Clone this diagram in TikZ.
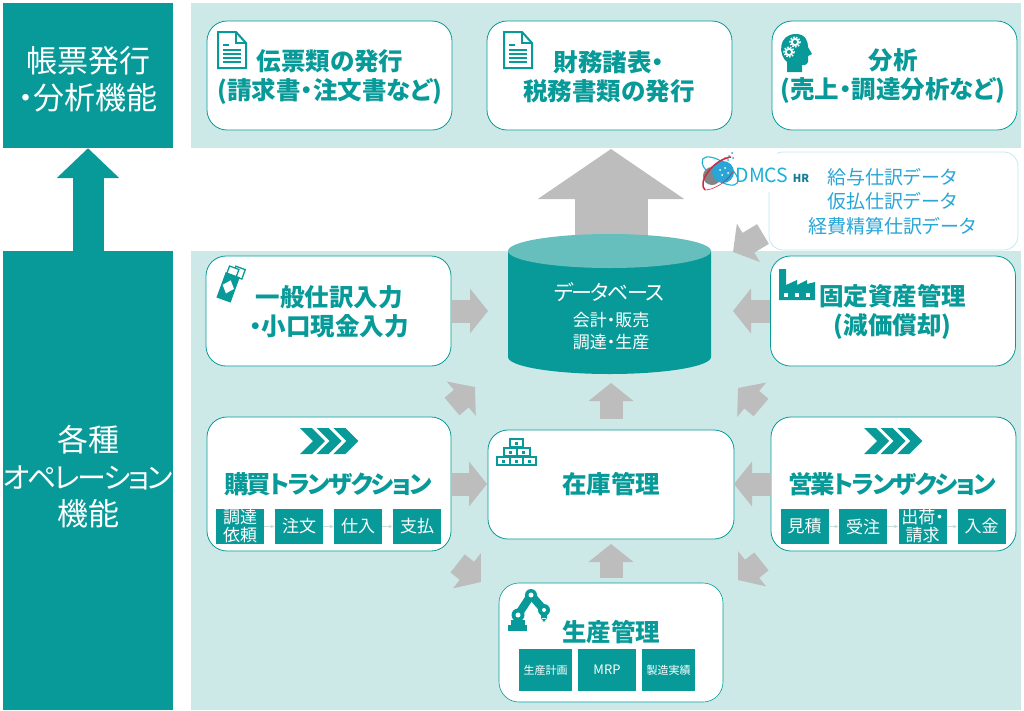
\documentclass[tikz,border=0pt]{standalone}
\usepackage{fontspec}
\usepackage{xcolor}
\usetikzlibrary{arrows.meta}
\newfontfamily\cjkfont[RawFeature=+palt]{Noto Sans CJK JP}
\newfontfamily\cjktight[RawFeature=+palt,LetterSpace=-8]{Noto Sans CJK JP}
\definecolor{dmteal}{RGB}{8,154,152}
\definecolor{dmpale}{RGB}{204,233,232}
\definecolor{dmtop}{RGB}{102,191,189}
\definecolor{dmgray}{RGB}{189,189,189}
\definecolor{dmblue}{RGB}{41,165,214}
\definecolor{dmcyan}{RGB}{28,176,214}
\definecolor{dmred}{RGB}{205,40,70}
\tikzset{
	band/.style={fill=dmteal,inner sep=0pt},
	paleband/.style={fill=dmpale,inner sep=0pt},
	panel/.style={draw=dmteal,line width=.8pt,fill=white,rounded corners=20pt,inner sep=0pt,minimum width=245pt,minimum height=109pt},
	boxlabel/.style={text=dmteal,align=center,inner sep=0pt,font=\cjkfont\bfseries\fontsize{24.5}{29}\selectfont},
	tightlabel/.style={text=dmteal,align=center,inner sep=0pt,font=\cjktight\bfseries\fontsize{24.5}{29}\selectfont},
	bandlabel/.style={text=white,align=center,inner sep=0pt,font=\cjkfont\fontsize{31}{37}\selectfont},
	stepbox/.style={fill=dmteal,text=white,align=center,inner sep=0pt,minimum width=48pt,minimum height=35pt,font=\cjkfont\fontsize{17}{18}\selectfont},
	prodbox/.style={fill=dmteal,text=white,inner sep=0pt,minimum height=42pt,font=\cjkfont\fontsize{11}{13}\selectfont},
	steplink/.style={draw=dmpale!70!dmgray,line width=.8pt,-{Latex[length=4pt,width=4pt]}},
	grayarrow/.style={draw=dmgray,line width=23pt,-{Triangle[length=18pt,width=44pt]}},
	icon/.style={fill=dmteal,draw=none}
}
\newcommand{\chevrons}[1]{
	\foreach \k in {0,16.7,33.4}
		\fill[icon,shift={(#1)}] (\k,0) -- ++(12,0) -- ++(13,13) -- ++(-13,13) -- ++(-12,0) -- ++(13,-13) -- cycle;
}
\newcommand{\docicon}[1]{
	\begin{scope}[shift={(#1)},draw=dmteal,line width=2pt]
		\draw[line join=miter] (0,0) -- (18,0) -- (28,11) -- (28,36) -- (0,36) -- cycle;
		\draw (18,0) -- (18,11) -- (28,11);
		\draw[line width=1.3pt] (5,13) -- (11,13);
		\foreach \k in {18,22,26,30}
			\draw[line width=1.3pt] (5,\k) -- (23,\k);
	\end{scope}
}
\newcommand{\gearicon}[1]{
	\fill[white] (#1) circle (4.2);
	\draw[white,line width=1.6pt,dash pattern=on 1.5pt off 1.5pt] (#1) circle (5);
	\fill[dmteal] (#1) circle (2);
}
\begin{document}
\begin{tikzpicture}[x=1pt,y=-1pt]
	\useasboundingbox (0,0) rectangle (1024,710);

	\node (chohyo) at (88,75.5) [band,minimum width=170pt,minimum height=145pt] {};
	\node (oper) at (88,480.5) [band,minimum width=170pt,minimum height=459pt] {};
	\node (palea) at (606,75.5) [paleband,minimum width=830pt,minimum height=145pt] {};
	\node (paleb) at (606,480.5) [paleband,minimum width=830pt,minimum height=459pt] {};

	\draw[draw=dmteal,line width=31pt,-{Triangle[length=30pt,width=61pt]}] (oper.north) -- (chohyo.south);

	\node (chohyotext) at (88,79) [bandlabel] {帳票発行\\・分析機能};
	\node (opertext) at (88,477) [bandlabel] {各種\\{\cjktight\fontsize{29}{37}\selectfont オペレーション}\\機能};

	% top row
	\node (denpyo) at (329.5,75.5) [panel] {};
	\node (zaimu) at (609.5,75.5) [panel] {};
	\node (bunseki) at (894.5,75.5) [panel] {};
	\node (denpyotext) at (330,77) [boxlabel] {伝票類の発行\\(請求書・注文書など)};
	\node (zaimutext) at (609,77) [boxlabel] {財務諸表・\\税務書類の発行};
	\node (bunsekitext) at (893,76) [boxlabel] {分析\\(売上・調達分析など)};
	\docicon{218,32}
	\docicon{504,32}

	\fill[icon] (787,72) -- (787,62) .. controls (778,55) and (778,34) .. (796,34) .. controls (806,34) and (808,42) .. (808,47) -- (812,54) -- (808,56) -- (808,62) .. controls (808,65) and (805,65) .. (802,65) -- (802,72) -- cycle;
	\gearicon{795,42}
	\gearicon{789,52}

	% database
	\coordinate (dbtip) at (611,149);
	\coordinate (dbtail) at (611,240);
	\draw[draw=dmgray,line width=73pt,-{Triangle[length=50pt,width=144pt]}] (dbtail) -- (dbtip);
	\fill[dmteal] (508,251) -- (508,357) arc[start angle=180,end angle=0,x radius=101.5,y radius=17] -- (711,251) -- cycle;
	\fill[dmtop] (609.5,251) ellipse [x radius=101.5,y radius=17];
	\node (dbtext) at (609,292) [text=white,inner sep=0pt,font=\cjktight\fontsize{21}{26}\selectfont] {データベース};
	\node (dbsub) at (611,331) [text=white,align=center,inner sep=0pt,font=\cjkfont\fontsize{17}{22}\selectfont] {会計・販売\\調達・生産};

	% dmcs data box
	\node (dmcs) at (893.5,201) [draw=dmcyan!30,line width=.7pt,fill=white,rounded corners=14pt,inner sep=0pt,minimum width=249pt,minimum height=98pt] {};
	\fill[white] (700,149) rectangle (777,192);
	\draw[dmcyan,line width=1.1pt,rotate around={-35:(720,171)}] (720,171) ellipse [x radius=21,y radius=9];
	\fill[dmgray!70!black] (712,176) circle (9);
	\fill[dmblue] (723,172) circle (11);
	\foreach \a/\b in {725/158,729/156,722/160,732/153,728/160,733/158,719/163,727/163}
		\fill[dmblue] (\a,\b) circle (1);
	\foreach \a/\b in {720/170,725/168,722/175,728/173}
		\fill[white] (\a,\b) circle (1);
	\draw[dmred,line width=1.5pt] (705,190) .. controls (697,183) and (712,160) .. (731,157);
	\draw[dmred,line width=.6pt] (705,190) .. controls (712,190) and (725,184) .. (733,172);
	\node (dmcsname) at (762,175) [text=dmcyan,inner sep=0pt,font=\cjkfont\fontsize{19.5}{20}\selectfont] {DMCS};
	\node (dmcshr) at (801,178) [text=dmcyan!70!black,inner sep=0pt,font=\cjkfont\bfseries\fontsize{11}{12}\selectfont] {HR};
	\node (dmcstext) at (892,201.5) [text=dmblue,align=center,inner sep=0pt,font=\cjkfont\fontsize{19}{24.5}\selectfont] {給与仕訳データ\\仮払仕訳データ\\経費精算仕訳データ};

	% operation boxes
	\node (ippan) at (328.5,311) [panel,minimum height=110pt] {};
	\node (kotei) at (893,311) [panel,minimum height=110pt] {};
	\node (kobai) at (329,484) [panel,minimum width=244pt,minimum height=134pt] {};
	\node (eigyo) at (893.5,484) [panel,minimum height=134pt] {};
	\node (zaiko) at (611,484.5) [panel,minimum width=246pt,minimum height=109pt] {};
	\node (seisan) at (611,642.5) [panel,minimum width=224pt,minimum height=119pt,line width=.6pt] {};

	\node (ippantext) at (329,311.5) [boxlabel] {一般仕訳入力\\・小口現金入力};
	\node (koteitext) at (892.5,312) [boxlabel] {固定資産管理\\(減価償却)};
	\node (kobaitext) at (328,484) [tightlabel] {購買トランザクション};
	\node (eigyotext) at (892,484) [tightlabel] {営業トランザクション};
	\node (zaikotext) at (611,484) [boxlabel] {在庫管理};
	\node (seisantext) at (611,632) [boxlabel] {生産管理};

	\chevrons{300,428}
	\chevrons{864,428}

	\foreach \i/\x/\t in {1/240/{調達\\依頼},2/299/注文,3/358/仕入,4/417/支払}
		\node (kobai\i) at (\x,526.5) [stepbox] {\t};
	\foreach \i/\x/\t in {1/804.5/見積,2/863/受注,3/922.5/{出荷・\\請求},4/981.5/入金}
		\node (eigyo\i) at (\x,526.5) [stepbox] {\t};
	\foreach \a/\b in {1/2,2/3,3/4} {
		\draw[steplink] (kobai\a) -- (kobai\b);
		\draw[steplink] (eigyo\a) -- (eigyo\b);
	}

	\node (seisan1) at (545.5,670) [prodbox,minimum width=53pt] {生産計画};
	\node (seisan2) at (607,670) [prodbox,minimum width=58pt,font=\cjkfont\fontsize{13}{16}\selectfont] {MRP};
	\node (seisan3) at (668.5,670) [prodbox,minimum width=53pt] {製造実績};

	% gray arrows
	\coordinate (dbw) at (488,311);
	\coordinate (dbe) at (733,311);
	\coordinate (zaikow) at (487,484);
	\coordinate (zaikoe) at (734,484);
	\coordinate (dbs) at (611,383);
	\coordinate (zaikon) at (611,419);
	\coordinate (zaikos) at (611,544);
	\coordinate (seisann) at (611,578);
	\coordinate (ula) at (452,406.5);
	\coordinate (ulb) at (475,387);
	\coordinate (ura) at (761,407.5);
	\coordinate (urb) at (738,388);
	\coordinate (lla) at (457.6,563.4);
	\coordinate (llb) at (481,582);
	\coordinate (lra) at (761.4,561.4);
	\coordinate (lrb) at (738,580);
	\coordinate (dma) at (763,234);
	\coordinate (dmb) at (733,252);
	\draw[grayarrow] (ippan.east) -- (dbw);
	\draw[grayarrow] (kotei.west) -- (dbe);
	\draw[grayarrow] (kobai.east) -- (zaikow);
	\draw[grayarrow] (eigyo.west) -- (zaikoe);
	\draw[grayarrow] (zaikon) -- (dbs);
	\draw[grayarrow] (seisann) -- (zaikos);
	\draw[grayarrow] (ula) -- (ulb);
	\draw[grayarrow] (ura) -- (urb);
	\draw[grayarrow] (lla) -- (llb);
	\draw[grayarrow] (lra) -- (lrb);
	\draw[grayarrow] (dma) -- (dmb);

	% money
	\begin{scope}[shift={(229,285)},rotate=-20]
		\draw[dmteal,line width=1.3pt,fill=white] (0,-20) rectangle (10,-10);
		\draw[dmteal,line width=1.3pt,fill=white] (-6,-18) rectangle (4,-10);
		\fill[icon] (-7.5,-11) rectangle (7.5,16);
		\fill[white] (0,-5) -- (6,2) -- (0,9) -- (-6,2) -- cycle;
	\end{scope}

	% factory
	\fill[icon] (779,269) -- (786,269) -- (786,285) -- (797,280) -- (797,285) -- (807,280) -- (807,284) -- (815,282) -- (815,300) -- (779,300) -- cycle;
	\foreach \a in {784,795,806}
		\fill[white] (\a,293) rectangle ++(4,4);

	% bricks
	\foreach \a/\b in {510/439,503.5/448,516.5/448,497/457,510/457,523/457} {
		\draw[dmteal,line width=2pt,fill=white] (\a,\b) rectangle ++(13,8);
		\fill[dmteal] (\a+5,\b+3) rectangle ++(3,3);
	}

	% robot
	\fill[icon] (508,625) rectangle (527,631);
	\fill[icon] (511,620) rectangle (525,626);
	\draw[dmteal,line width=8pt] (518,615) -- (531,595);
	\draw[dmteal,line width=8pt] (531,595) -- (544,610);
	\fill[dmteal] (518,615) circle (6.5) (531,595) circle (6) (544,610) circle (6);
	\fill[white] (518,615) circle (2.5) (531,595) circle (2.5) (544,610) circle (2);
	\fill[icon] (541,615) rectangle (547,619) (544,622) -- (541,618) -- (547,618) -- cycle;
\end{tikzpicture}
\end{document}
